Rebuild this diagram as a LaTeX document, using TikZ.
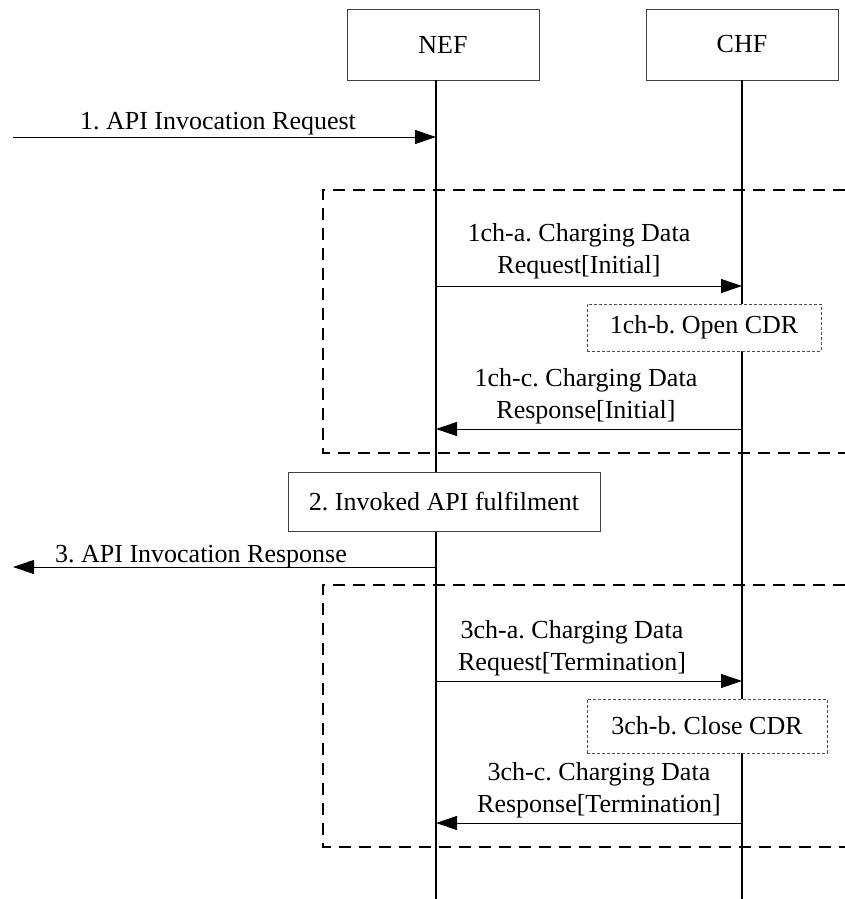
\documentclass[tikz,border=0pt]{standalone}
\usepackage{fontspec}
\setmainfont{Liberation Serif}
\usetikzlibrary{arrows.meta}
\frenchspacing
\tikzset{
	entity/.style={draw=black!75,line width=0.9pt,fill=white,minimum width=192pt,minimum height=71pt,inner sep=0pt},
	action/.style={draw=black!75,line width=0.9pt,fill=white,inner sep=0pt},
	note/.style={draw=black!70,line width=0.8pt,dash pattern=on 3pt off 2pt,fill=white,inner sep=0pt},
	lifeline/.style={line width=1.5pt},
	msg/.style={line width=1pt,-{Triangle[length=21pt,width=14pt]}},
	frame/.style={line width=1.5pt,dash pattern=on 12pt off 8pt},
	lbl/.style={inner sep=0pt,align=center}
}
\begin{document}
\begin{tikzpicture}[x=1pt,y=-1pt,font=\fontsize{26}{32}\selectfont]
	\useasboundingbox (0,0) rectangle (845,899);

	% Draw the entities and their lifelines
	\node[entity] (nef) at (443,44.5) {NEF};
	\node[entity] (chf) at (742,44.5) {CHF};
	\coordinate (nefEnd) at (436,899);
	\coordinate (chfEnd) at (742,899);
	\draw[lifeline] (nef.south -| nefEnd) -- (nefEnd);
	\draw[lifeline] (chf.south) -- (chfEnd);

	% charging frames
	\draw[frame] (845,190) -- (323,190) -- (323,453) -- (845,453);
	\draw[frame] (845,585) -- (323,585) -- (323,847) -- (845,847);

	% request from the invoker
	\coordinate (user1) at (13,137);
	\draw[msg] (user1) -- (user1 -| nefEnd);
	\node[lbl,anchor=base] (m1) at (218,129) {1. API Invocation Request};

	% open the charging session
	\coordinate (req1) at (436,286);
	\draw[msg] (req1) -- (req1 -| chfEnd);
	\node[lbl,anchor=south] (m1a) at (579,279) {1ch-a. Charging Data\\Request[Initial]};
	\node[note,minimum width=234pt,minimum height=47pt] (m1b) at (704,327.5) {1ch-b. Open CDR};
	\coordinate (rsp1) at (742,429);
	\draw[msg] (rsp1) -- (rsp1 -| nefEnd);
	\node[lbl,anchor=south] (m1c) at (586,424) {1ch-c. Charging Data\\Response[Initial]};

	% fulfilment and response
	\node[action,minimum width=312pt,minimum height=59pt] (m2) at (444,501.5) {2. Invoked API fulfilment\hspace{12pt}};
	\coordinate (user3) at (13,567);
	\draw[msg] (user3 -| nefEnd) -- (user3);
	\node[lbl,anchor=base] (m3) at (201,562) {3. API Invocation Response};

	% close the charging session
	\coordinate (req3) at (436,681);
	\draw[msg] (req3) -- (req3 -| chfEnd);
	\node[lbl,anchor=south] (m3a) at (572,676) {3ch-a. Charging Data\\Request[Termination]};
	\node[note,minimum width=240pt,minimum height=54pt] (m3b) at (707,726) {3ch-b. Close CDR};
	\coordinate (rsp3) at (742,823);
	\draw[msg] (rsp3) -- (rsp3 -| nefEnd);
	\node[lbl,anchor=south] (m3c) at (599,818) {3ch-c. Charging Data\\Response[Termination]};
\end{tikzpicture}
\end{document}
